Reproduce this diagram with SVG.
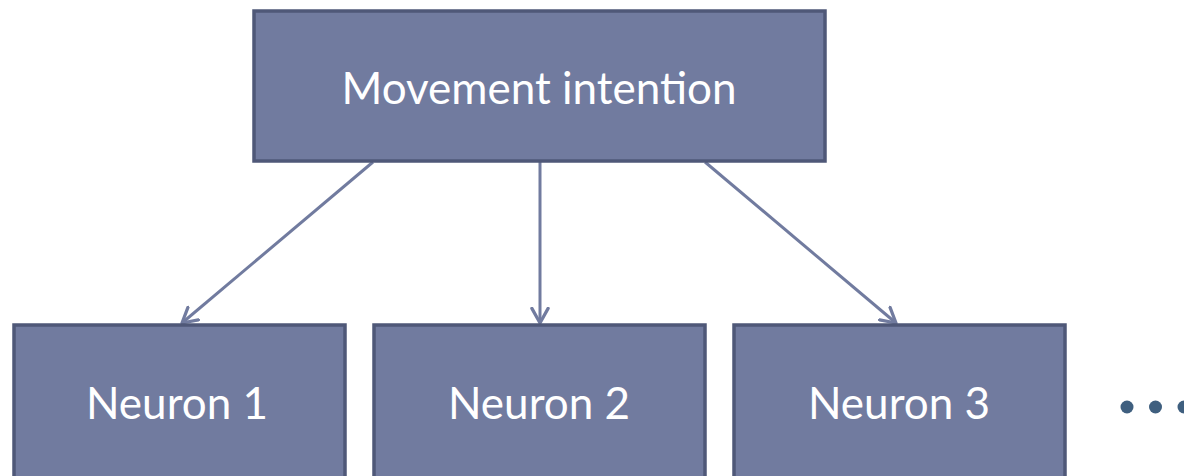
<svg xmlns="http://www.w3.org/2000/svg" width="1184" height="476" viewBox="0 0 1184 476">
<style>
.box{fill:#717b9f;stroke:#4f5878;stroke-width:3.5}
.lbl{font-family:Lato,"Open Sans",sans-serif;font-size:44px;fill:#ffffff;text-anchor:middle}
.conn{stroke:#717b9f;stroke-width:3;fill:none;marker-end:url(#arr)}
.dot{fill:#3f5f7f}
</style>
<defs>
<marker id="arr" viewBox="0 0 12 12" refX="10" refY="6" markerWidth="6.5" markerHeight="6.5" orient="auto" markerUnits="strokeWidth">
<path d="M1,1 L10,6 L1,11" fill="none" stroke="#717b9f" stroke-width="2" stroke-linecap="round" stroke-linejoin="round"/>
</marker>
</defs>
<rect width="1184" height="476" fill="#ffffff"/>
<g id="connectors">
<line class="conn" x1="373" y1="162" x2="182" y2="323"/>
<line class="conn" x1="540" y1="162" x2="540" y2="323"/>
<line class="conn" x1="705" y1="162" x2="896" y2="323"/>
</g>
<g id="movement">
<rect class="box" x="254" y="11" width="571" height="150"/>
<text class="lbl" x="539" y="104">Movement intention</text>
</g>
<g id="neuron1">
<rect class="box" x="14" y="325" width="331" height="160"/>
<text class="lbl" x="177" y="419">Neuron 1</text>
</g>
<g id="neuron2">
<rect class="box" x="374" y="325" width="331" height="160"/>
<text class="lbl" x="539" y="419">Neuron 2</text>
</g>
<g id="neuron3">
<rect class="box" x="734" y="325" width="331" height="160"/>
<text class="lbl" x="899" y="419">Neuron 3</text>
</g>
<g id="ellipsis">
<circle class="dot" cx="1127" cy="407" r="6.5"/>
<circle class="dot" cx="1155.5" cy="407" r="6.5"/>
<circle class="dot" cx="1184" cy="407" r="6.5"/>
</g>
</svg>
